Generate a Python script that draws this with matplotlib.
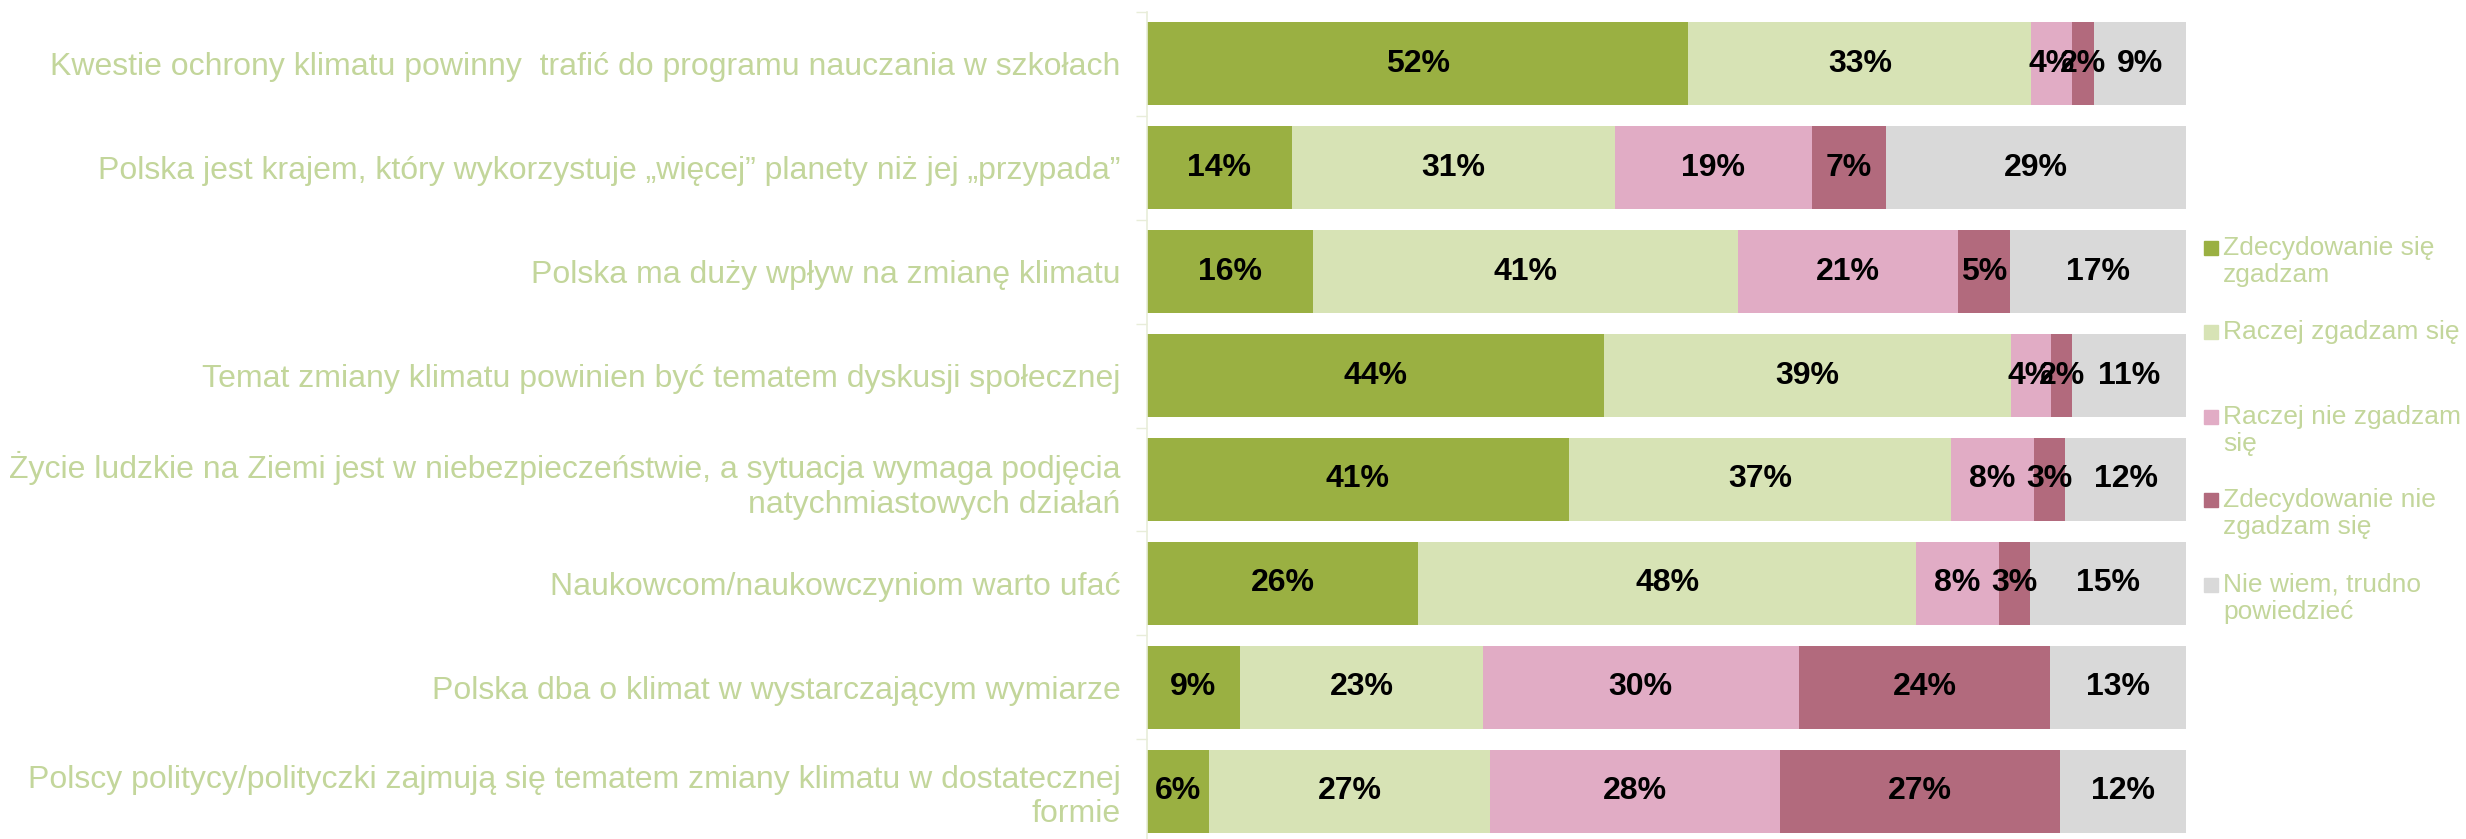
import matplotlib
matplotlib.use("Agg")
import matplotlib.pyplot as plt
from matplotlib.patches import Rectangle
import numpy as np

categories = [
    "Kwestie ochrony klimatu powinny  trafić do programu nauczania w szkołach",
    "Polska jest krajem, który wykorzystuje „więcej” planety niż jej „przypada”",
    "Polska ma duży wpływ na zmianę klimatu",
    "Temat zmiany klimatu powinien być tematem dyskusji społecznej",
    "Życie ludzkie na Ziemi jest w niebezpieczeństwie, a sytuacja wymaga podjęcia\nnatychmiastowych działań",
    "Naukowcom/naukowczyniom warto ufać",
    "Polska dba o klimat w wystarczającym wymiarze",
    "Polscy politycy/polityczki zajmują się tematem zmiany klimatu w dostatecznej\nformie",
]
series_names = [
    "Zdecydowanie się\nzgadzam",
    "Raczej zgadzam się",
    "Raczej nie zgadzam\nsię",
    "Zdecydowanie nie\nzgadzam się",
    "Nie wiem, trudno\npowiedzieć",
]
strongly_agree = [52.1, 14.0, 16.0, 44.0, 40.6, 26.1, 9.0, 6.0]
rather_agree = [33.0, 31.0, 40.9, 39.1, 36.8, 47.9, 23.3, 27.0]
rather_disagree = [3.9, 19.0, 21.1, 3.9, 7.9, 8.0, 30.4, 27.9]
strongly_disagree = [2.1, 7.1, 5.0, 2.0, 3.0, 3.0, 24.2, 26.9]
dont_know = [8.9, 28.9, 17.0, 11.0, 11.7, 15.0, 13.1, 12.2]

colors = ["#9AB042", "#D7E3B5", "#E1ACC5", "#B26A7D", "#D9D9D9"]
label_color = "#C3D69B"

plt.rcParams['font.family'] = ['Liberation Sans', 'DejaVu Sans']

W, H = 2466, 839
fig = plt.figure(figsize=(W / 100, H / 100), dpi=100)
ax_left, ax_right = 1146.7, 2186.4
ax = fig.add_axes([ax_left / W, -0.0048, (ax_right - ax_left) / W, 0.9905])

data = [strongly_agree, rather_agree, rather_disagree, strongly_disagree, dont_know]
y = np.arange(len(categories))
left = np.zeros(len(categories))
for vals, col in zip(data, colors):
    vals = np.array(vals, dtype=float)
    ax.barh(y, vals, left=left, height=0.8, color=col, edgecolor='none')
    for yi, l, v in zip(y, left, vals):
        ax.text(l + v / 2, yi, f"{int(np.floor(v + 0.5))}%", ha='center', va='center',
                fontsize=23, fontweight='bold', color='black')
    left += vals

ax.set_xlim(0, 100)
ax.set_ylim(len(categories) - 0.5, -0.5)
ax.set_xticks([])
ax.set_yticks(y)
ax.set_yticklabels(categories, fontsize=23, color=label_color)
ax.tick_params(axis='y', which='major', length=0, pad=19)
ax.set_yticks(np.arange(-0.5, len(categories), 1.0), minor=True)
ax.tick_params(axis='y', which='minor', length=8, color='#E8EDD9', width=1)
for s in ['top', 'right', 'bottom']:
    ax.spines[s].set_visible(False)
ax.spines['left'].set_color('#E8EDD9')
ax.spines['left'].set_linewidth(1.2)

# legend
legend_centers = [248, 332, 417, 500, 585]
sq = 14
for name, col, cy in zip(series_names, colors, legend_centers):
    fig.patches.append(Rectangle((2204 / W, 1 - (cy + sq / 2) / H), sq / W, sq / H,
                                 transform=fig.transFigure, color=col))
    fig.text(2223 / W, 1 - (cy - 12.4) / H, name, fontsize=19, color=label_color,
             ha='left', va='top', linespacing=1.2)

fig.savefig("out.png", dpi=100)
